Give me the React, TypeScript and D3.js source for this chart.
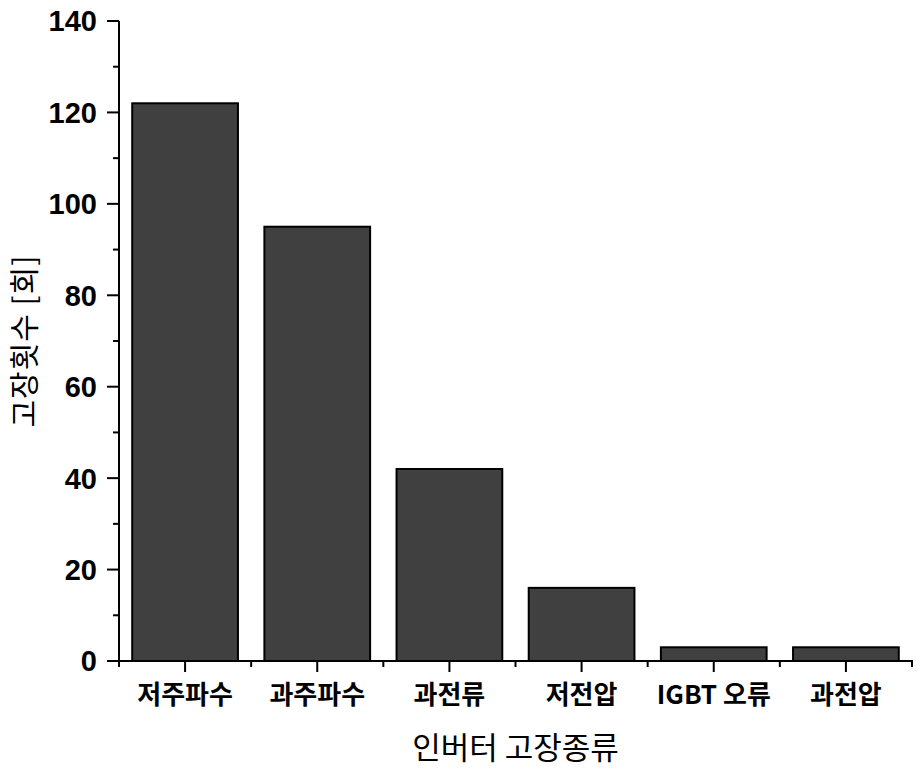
import React from "react";
import * as d3 from "d3";

const categories = ["저주파수", "과주파수", "과전류", "저전압", "IGBT 오류", "과전압"];
const counts = [122, 95, 42, 16, 3, 3];
const yTicks = [0, 20, 40, 60, 80, 100, 120, 140];
const yMinorTicks = [10, 30, 50, 70, 90, 110, 130];

export default function App() {
  const W = 919, H = 771;
  const left = 119, right = 912, top = 21, bottom = 661;
  const x = d3.scaleBand<string>().domain(categories).range([left, right]).paddingInner(0.2).paddingOuter(0.1);
  const y = d3.scaleLinear().domain([0, 140]).range([bottom, top]);
  const step = x.step();
  const boundaries = categories.map((_, i) => left + i * step).concat([right]);
  const cjk = "'Noto Sans CJK KR', 'Liberation Sans', Arial, sans-serif";
  return (
    <svg width={W} height={H} style={{ position: "absolute", left: 0, top: 0 }}>
      <rect width={W} height={H} fill="white" />
      {categories.map((c, i) => (
        <rect key={c} x={x(c)!} y={y(counts[i])} width={x.bandwidth()} height={bottom - y(counts[i])}
          fill="#404040" stroke="black" strokeWidth={2} />
      ))}
      {/* y axis */}
      <line x1={left} x2={left} y1={top} y2={bottom + 1} stroke="black" strokeWidth={2} />
      {yTicks.map(t => (
        <g key={t}>
          <line x1={left - 12} x2={left} y1={y(t)} y2={y(t)} stroke="black" strokeWidth={2} />
          <text x={97} y={y(t)} dy="0.36em" textAnchor="end" fontFamily="'Liberation Sans', Arial, sans-serif"
            fontWeight="bold" fontSize={29}>{t}</text>
        </g>
      ))}
      {yMinorTicks.map(t => (
        <line key={t} x1={left - 6} x2={left} y1={y(t)} y2={y(t)} stroke="black" strokeWidth={2} />
      ))}
      {/* x axis */}
      <line x1={left - 1} x2={right + 1} y1={bottom} y2={bottom} stroke="black" strokeWidth={2} />
      {boundaries.map((b, i) => (
        <line key={i} x1={b} x2={b} y1={bottom} y2={bottom + 6} stroke="black" strokeWidth={2} />
      ))}
      {categories.map(c => {
        const cx = x(c)! + x.bandwidth() / 2;
        return (
          <g key={c}>
            <line x1={cx} x2={cx} y1={bottom} y2={bottom + 11} stroke="black" strokeWidth={2} />
            <text x={cx} y={695} dy="0.36em" textAnchor="middle" fontFamily={cjk} fontWeight="bold" fontSize={26}>{c}</text>
          </g>
        );
      })}
      <text x={(left + right) / 2} y={748} dy="0.36em" textAnchor="middle" fontFamily={cjk} fontSize={31}>인버터 고장종류</text>
      <text transform={`translate(24,${(top + bottom) / 2}) rotate(-90)`} dy="0.36em" textAnchor="middle"
        fontFamily={cjk} fontSize={30} letterSpacing={1}>고장횟수 [회]</text>
    </svg>
  );
}
